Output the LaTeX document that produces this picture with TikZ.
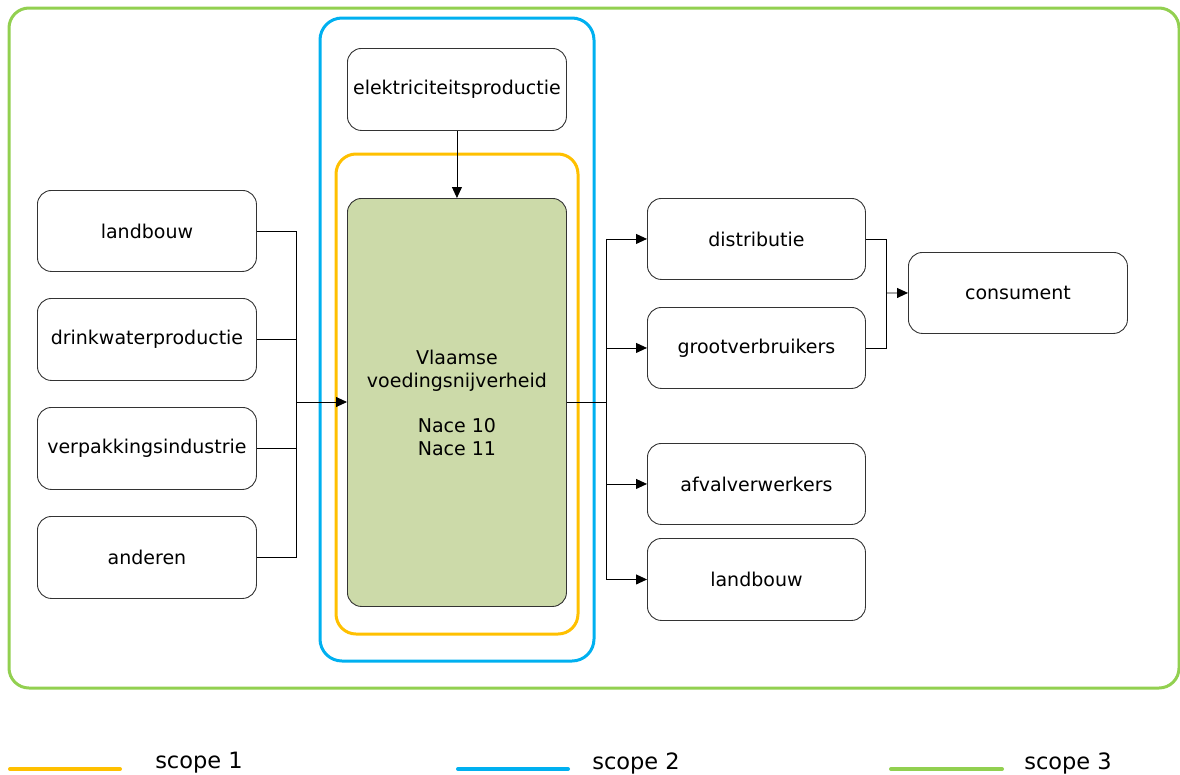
\documentclass[tikz,border=0pt]{standalone}
\usepackage{fontspec}
\setmainfont{DejaVu Sans}
\usetikzlibrary{arrows.meta}
\definecolor{scA}{HTML}{FFC000}
\definecolor{scB}{HTML}{00B0F0}
\definecolor{scC}{HTML}{92D050}
\definecolor{boxfill}{HTML}{CCDAA9}
\begin{document}
\begin{tikzpicture}[x=1pt,y=-1pt,
  box/.style={draw=black!80,line width=0.9pt,rounded corners=14pt,inner sep=0pt,anchor=north west,font=\fontsize{19}{23}\selectfont,align=center},
  conn/.style={draw=black,line width=0.9pt},
  arr/.style={conn,-{Triangle[length=11pt,width=10pt]}},
  scope1/.style={draw=scA,line width=3pt,rounded corners=20pt},
  scope2/.style={draw=scB,line width=3pt,rounded corners=22pt},
  scope3/.style={draw=scC,line width=3pt,rounded corners=20pt},
  legtext/.style={font=\fontsize{22.5}{26}\selectfont,anchor=center}]
\useasboundingbox (0,0) rectangle (1180,774);
\draw[scope3] (9,8) rectangle (1179,688);
\draw[scope2] (320,18) rectangle (594,661);
\draw[scope1] (336,154) rectangle (578,634);
% nodes
\node[box,minimum width=219pt,minimum height=82pt] (elek) at (347,48) {elektriciteitsproductie};
\node[box,fill=boxfill,minimum width=219pt,minimum height=408pt] (vv) at (347,198) {Vlaamse\\voedingsnijverheid\\[22pt]Nace 10\\Nace 11};
\node[box,minimum width=219pt,minimum height=81pt] (l1) at (37,190) {landbouw};
\node[box,minimum width=219pt,minimum height=82pt] (l2) at (37,298) {drinkwaterproductie};
\node[box,minimum width=219pt,minimum height=82pt] (l3) at (37,407) {verpakkingsindustrie};
\node[box,minimum width=219pt,minimum height=82pt] (l4) at (37,516) {anderen};
\node[box,minimum width=218pt,minimum height=81pt] (r1) at (647,198) {distributie};
\node[box,minimum width=218pt,minimum height=81pt] (r2) at (647,307) {grootverbruikers};
\node[box,minimum width=218pt,minimum height=81pt] (r3) at (647,443) {afvalverwerkers};
\node[box,minimum width=218pt,minimum height=82pt] (r4) at (647,538) {landbouw};
\node[box,minimum width=219pt,minimum height=81pt] (cons) at (908,252) {consument};
% connectors
\coordinate (lj) at (296,402);
\coordinate (rj) at (606,402);
\coordinate (cj) at (886,293);
\draw[arr] (elek.south) -- (vv.north);
\draw[conn] (l1.east) -- (l1.east -| lj) -- (l4.east -| lj) -- (l4.east);
\draw[conn] (l2.east) -- (l2.east -| lj);
\draw[conn] (l3.east) -- (l3.east -| lj);
\draw[arr] (lj) -- (lj -| vv.west);
\draw[conn] (rj -| vv.east) -- (rj);
\draw[conn] (r1.west -| rj) -- (r4.west -| rj);
\draw[arr] (r1.west -| rj) -- (r1.west);
\draw[arr] (r2.west -| rj) -- (r2.west);
\draw[arr] (r3.west -| rj) -- (r3.west);
\draw[arr] (r4.west -| rj) -- (r4.west);
\draw[conn] (r1.east) -- (r1.east -| cj) -- (r2.east -| cj) -- (r2.east);
\draw[arr] (cj) -- (cons.west);
% legend
\coordinate (a1) at (10,769); \coordinate (a2) at (120,769);
\coordinate (b1) at (458,769); \coordinate (b2) at (568,769);
\coordinate (c1) at (891,769); \coordinate (c2) at (1002,769);
\draw[draw=scA,line width=4pt,line cap=round] (a1) -- (a2);
\draw[draw=scB,line width=4pt,line cap=round] (b1) -- (b2);
\draw[draw=scC,line width=4pt,line cap=round] (c1) -- (c2);
\node[legtext] (t1) at (199,763) {scope 1};
\node[legtext] (t2) at (636,763) {scope 2};
\node[legtext] (t3) at (1068,763) {scope 3};
\end{tikzpicture}
\end{document}
